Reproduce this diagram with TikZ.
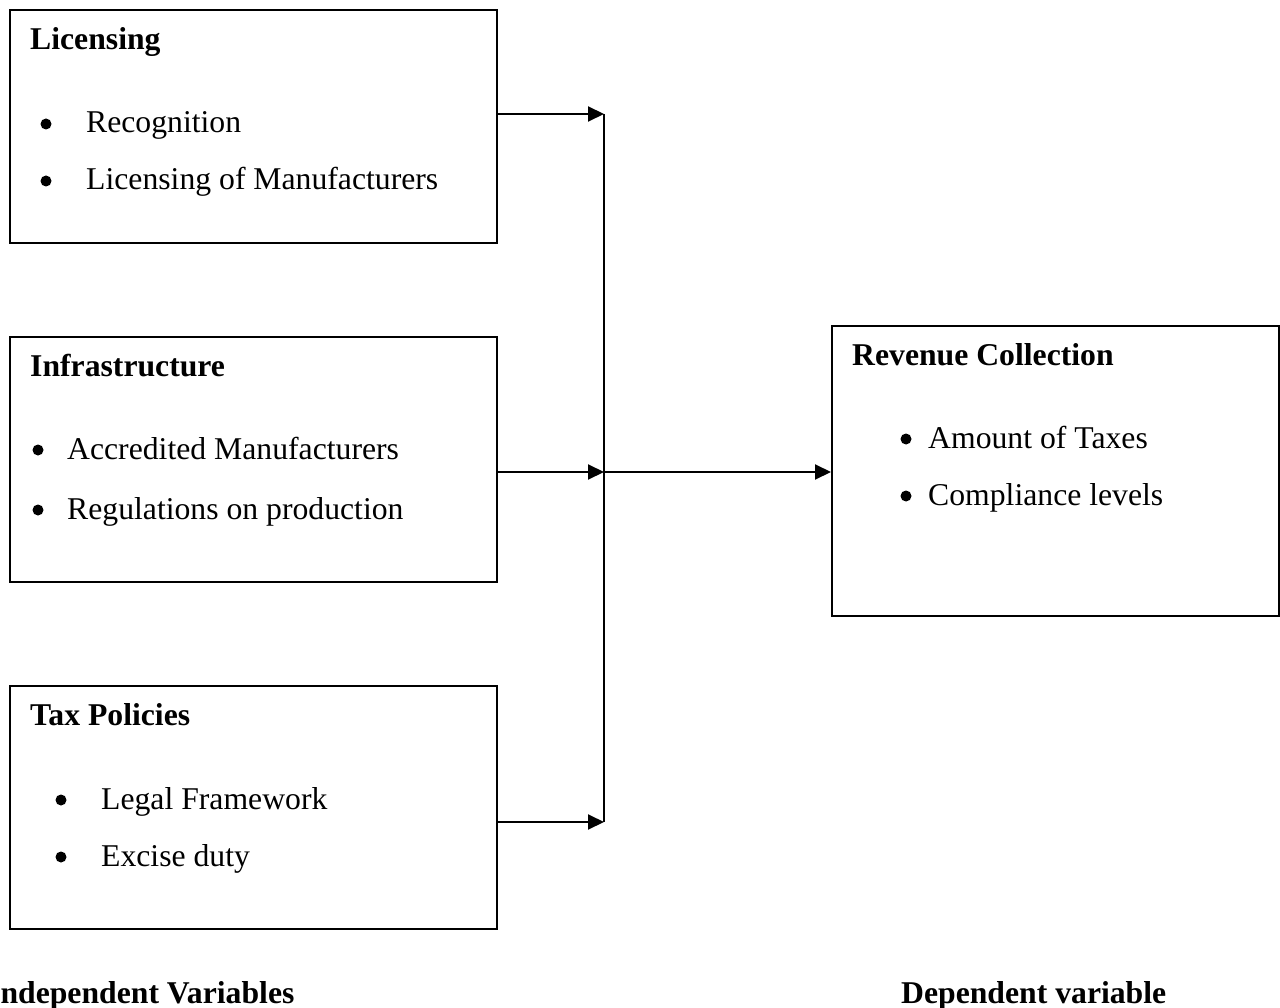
\documentclass[tikz,border=0pt]{standalone}
\usepackage{fontspec}
\setmainfont{Liberation Serif}
\usetikzlibrary{arrows.meta}
\begin{document}
\begin{tikzpicture}[x=1pt,y=-1pt,
  box/.style={draw, line width=2pt, inner sep=0pt, anchor=north west},
  conn/.style={line width=2pt},
  arr/.style={line width=2pt, -{Triangle[length=16pt,width=15pt]}},
  txt/.style={anchor=base west, inner sep=0pt, font=\fontsize{31.7}{38}\selectfont},
  ttl/.style={txt, font=\fontsize{31.7}{38}\selectfont\bfseries},
  dot/.style={circle, fill=black, inner sep=0pt, minimum size=11pt}]
\useasboundingbox (0,0) rectangle (1280,1008);

% boxes
\node[box, minimum width=487pt, minimum height=233pt] (lic) at (9,9) {};
\node[box, minimum width=487pt, minimum height=245pt] (inf) at (9,336) {};
\node[box, minimum width=487pt, minimum height=243pt] (tax) at (9,685) {};
\node[box, minimum width=447pt, minimum height=290pt] (rev) at (831,325) {};

% Licensing
\node[ttl] (licT) at (30,50) {Licensing};
\node[dot] (licB1) at (46,124) {};
\node[txt] (licI1) at (86,133) {Recognition};
\node[dot] (licB2) at (46,181) {};
\node[txt] (licI2) at (86,190) {Licensing of Manufacturers};

% Infrastructure
\node[ttl] (infT) at (30,377) {Infrastructure};
\node[dot] (infB1) at (38,450) {};
\node[txt] (infI1) at (67,459) {Accredited Manufacturers};
\node[dot] (infB2) at (38,510) {};
\node[txt] (infI2) at (67,519) {Regulations on production};

% Tax Policies
\node[ttl] (taxT) at (30,725) {Tax Policies};
\node[dot] (taxB1) at (61,800) {};
\node[txt] (taxI1) at (101,809) {Legal Framework};
\node[dot] (taxB2) at (61,857) {};
\node[txt] (taxI2) at (101,866) {Excise duty};

% Revenue Collection
\node[ttl] (revT) at (852,365) {Revenue Collection};
\node[dot] (revB1) at (906,439) {};
\node[txt] (revI1) at (928,448) {Amount of Taxes};
\node[dot] (revB2) at (906,496) {};
\node[txt] (revI2) at (928,505) {Compliance levels};

% bottom labels
\node[ttl] (indep) at (-12,1003) {Independent Variables};
\node[ttl] (dep) at (901,1003) {Dependent variable};

% connectors
\coordinate (j1) at (604,114);
\coordinate (j2) at (604,472);
\coordinate (j3) at (604,822);
\draw[conn] (j1) -- (j3);
\draw[arr] (lic.east |- j1) -- (j1);
\draw[arr] (inf.east |- j2) -- (j2);
\draw[arr] (tax.east |- j3) -- (j3);
\draw[arr] (j2) -- (rev.west |- j2);
\end{tikzpicture}
\end{document}
